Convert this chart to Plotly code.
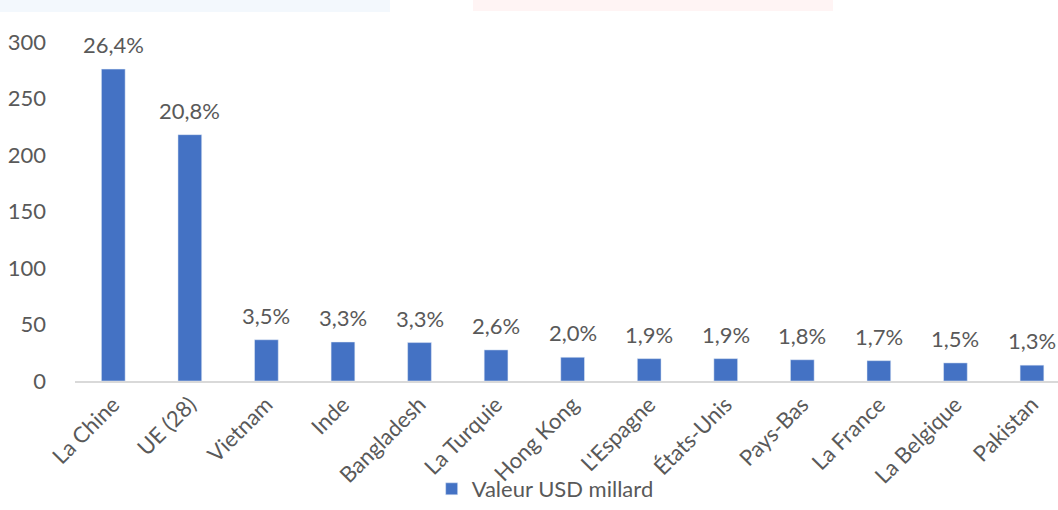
import plotly.graph_objects as go

categories = ["La Chine", "UE (28)", "Vietnam", "Inde", "Bangladesh", "La Turquie",
              "Hong Kong", "L'Espagne", "États-Unis", "Pays-Bas", "La France",
              "La Belgique", "Pakistan"]
values = [276, 218, 36.5, 34.5, 34.0, 27.5, 21.0, 19.8, 19.8, 18.8, 18.0, 16.0, 14.0]
shares = ["26,4%", "20,8%", "3,5%", "3,3%", "3,3%", "2,6%", "2,0%", "1,9%", "1,9%",
          "1,8%", "1,7%", "1,5%", "1,3%"]
series_name = "Valeur USD millard"
y_ticks = [0, 50, 100, 150, 200, 250, 300]

FONT = "Lato, 'Open Sans', sans-serif"
GREY = "#595959"
FS = 22

fig = go.Figure()
fig.add_trace(go.Bar(
    x=categories, y=values, name=series_name,
    marker=dict(color="#4472C4"),
    width=0.31,
))

for cat, val, lab in zip(categories, values, shares):
    fig.add_annotation(x=cat, y=val, text=lab, showarrow=False,
                       xanchor="center", yanchor="bottom", yshift=9,
                       font=dict(family=FONT, size=FS, color=GREY))

fig.update_layout(
    width=1058, height=510,
    margin=dict(l=75, r=0, t=42, b=129),
    paper_bgcolor="white", plot_bgcolor="white",
    font=dict(family=FONT, size=FS, color=GREY),
    showlegend=True,
    legend=dict(orientation="h", xref="container", yref="container",
                x=0.408, xanchor="left", y=0, yanchor="bottom",
                bgcolor="rgba(0,0,0,0)",
                font=dict(family=FONT, size=FS, color=GREY)),
    xaxis=dict(range=[-0.5, 12.34], tickangle=-45, showline=True,
               linecolor="#D9D9D9", linewidth=2, ticks="", showgrid=False,
               automargin=False,
               tickfont=dict(family=FONT, size=FS, color=GREY)),
    yaxis=dict(range=[0, 300], tickvals=y_ticks, showgrid=False, zeroline=False,
               showline=False, ticks="", ticklabelstandoff=28, automargin=False,
               tickfont=dict(family=FONT, size=FS, color=GREY)),
    shapes=[
        dict(type="rect", xref="paper", yref="paper",
             x0=-75/983, x1=(390-75)/983, y0=1 + 30/339, y1=1 + 42/339,
             fillcolor="#F3F8FD", line=dict(width=0), layer="below"),
        dict(type="rect", xref="paper", yref="paper",
             x0=(473-75)/983, x1=(833-75)/983, y0=1 + 31/339, y1=1 + 42/339,
             fillcolor="#FFF4F4", line=dict(width=0), layer="below"),
    ],
)

fig.write_html("out.html", config={"displayModeBar": False},
               post_script="document.body.style.margin='0';document.body.style.overflow='hidden';")
